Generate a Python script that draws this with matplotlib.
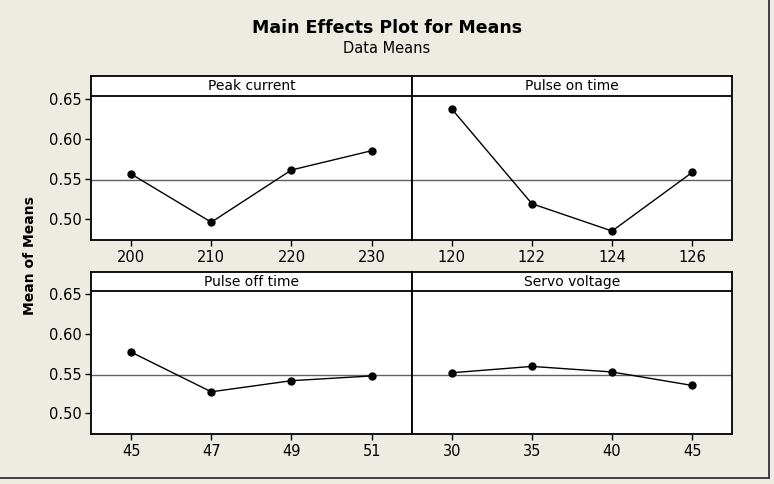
import matplotlib
matplotlib.use("Agg")
import matplotlib.pyplot as plt

# data
faktor = ["Peak current", "Pulse on time", "Pulse off time", "Servo voltage"]
level_peak = ["200", "210", "220", "230"]
level_on = ["120", "122", "124", "126"]
level_off = ["45", "47", "49", "51"]
level_servo = ["30", "35", "40", "45"]
mean_peak = [0.556, 0.496, 0.561, 0.585]
mean_on = [0.637, 0.519, 0.485, 0.558]
mean_off = [0.577, 0.527, 0.541, 0.547]
mean_servo = [0.551, 0.559, 0.552, 0.535]
grand_mean = 0.5488
yticks = [0.50, 0.55, 0.60, 0.65]

bg = "#eeebe2"
fig = plt.figure(figsize=(7.74, 4.84), dpi=100, facecolor=bg)

# posisi panel [left, bottom, width, height]
pos = [
    [0.1176, 0.5041, 0.4143, 0.3388],
    [0.5319, 0.5041, 0.4142, 0.3388],
    [0.1176, 0.1033, 0.4143, 0.3347],
    [0.5319, 0.1033, 0.4142, 0.3347],
]
levels = [level_peak, level_on, level_off, level_servo]
means = [mean_peak, mean_on, mean_off, mean_servo]

for i in range(4):
    ax = fig.add_axes(pos[i])
    ax.set_facecolor("white")
    x = list(range(len(levels[i])))
    ax.axhline(grand_mean, color="#606060", lw=1.0, zorder=1)
    ax.plot(x, means[i], color="black", lw=1.0, marker="o", ms=5, zorder=3)
    ax.set_xlim(-0.5, 3.5)
    ax.set_ylim(0.4738, 0.678)
    # strip judul panel
    ax.axhline(0.6535, color="black", lw=1.3, zorder=4)
    ax.text(1.5, 0.6658, faktor[i], ha="center", va="center", fontsize=10)
    ax.set_xticks(x)
    ax.set_xticklabels(levels[i], fontsize=10.5)
    if i % 2 == 0:
        ax.set_yticks(yticks)
        ax.set_yticklabels([f"{v:.2f}" for v in yticks], fontsize=10.5)
    else:
        ax.set_yticks([])
    for s in ax.spines.values():
        s.set_linewidth(1.3)
    ax.tick_params(direction="out", length=4, width=1, pad=3)

fig.text(0.5, 0.942, "Main Effects Plot for Means", ha="center", va="center",
         fontsize=12.5, fontweight="bold")
fig.text(0.5, 0.899, "Data Means", ha="center", va="center", fontsize=10.5)
fig.text(0.039, 0.473, "Mean of Means", ha="center", va="center", rotation=90,
         fontsize=10, fontweight="bold")

# garis bingkai kanan dan bawah
fig.add_artist(plt.Line2D([0.9935, 0.9935], [0.012, 1.0], color="#333333", lw=1.3))
fig.add_artist(plt.Line2D([0.0, 0.9935], [0.012, 0.012], color="#333333", lw=1.3))

plt.savefig("out.png", dpi=100, facecolor=bg)
